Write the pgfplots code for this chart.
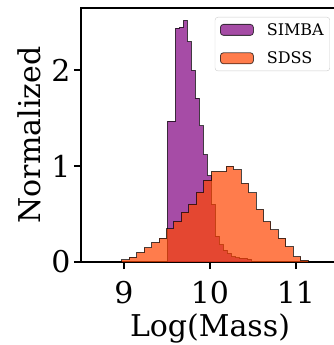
\documentclass[border=0pt]{standalone}
\usepackage{fontspec}
\setmainfont{DejaVu Serif}
\usepackage{pgfplots}
\pgfplotsset{compat=1.18}
\definecolor{simba}{HTML}{800080}
\definecolor{sdss}{HTML}{FF4500}
\begin{document}
\begin{tikzpicture}
\begin{axis}[
  scale only axis, width=258pt, height=254pt,
  at={(0pt,0pt)}, anchor=south west,
  xmin=8.5, xmax=11.5, ymin=0, ymax=2.65,
  axis line style={line width=2.5pt},
  tick align=outside, major tick length=7pt, tick pos=left,
  tick style={line width=2pt, black},
  xtick={9,10,11}, ytick={0,1,2},
  tick label style={font=\fontsize{30}{36}\selectfont},
  xticklabel style={yshift=-9pt},
  label style={font=\fontsize{30}{36}\selectfont},
  xlabel style={yshift=-3pt},
  ylabel shift=4pt,
  /pgf/number format/assume math mode=true,
  xlabel={Log(Mass)}, ylabel={Normalized},
  legend cell align=left,
  legend image code/.code={\draw[#1, line width=0.8pt] (0pt,-5.5pt) rectangle (33pt,5.5pt);},
  legend style={at={(axis description cs:1,1)}, anchor=north east, xshift=-9pt, yshift=-9pt,
    draw=black!20, rounded corners=3pt, fill=white, font=\rmfamily\fontsize{16}{19}\selectfont,
    inner xsep=5pt, inner ysep=5pt, row sep=13pt, column sep=12pt, nodes={inner sep=1pt}},
]
\addplot[const plot, fill=simba, fill opacity=0.7, draw=black, draw opacity=0.7, line width=1pt]
coordinates {(9.5035,0) (9.5035,1.47) (9.55,1.47) (9.5965,2.44) (9.643,2.45) (9.6895,2.52) (9.736,2.30) (9.7825,2.00) (9.829,1.71) (9.8755,1.42) (9.922,1.12) (9.9685,0.90) (10.015,0.60) (10.0615,0.27) (10.108,0.18) (10.1545,0.125) (10.201,0.09) (10.2475,0.055) (10.294,0.045) (10.3405,0.04) (10.387,0.04) (10.4335,0.03) (10.48,0.03) (10.48,0)} -- cycle;
\addlegendentry{SIMBA}
\addplot[const plot, fill=sdss, fill opacity=0.7, draw=black, draw opacity=0.7, line width=1pt]
coordinates {(8.973,0) (8.973,0.022) (9.0598,0.052) (9.1466,0.10) (9.2334,0.15) (9.3202,0.205) (9.407,0.25) (9.4938,0.345) (9.5806,0.425) (9.6674,0.52) (9.7542,0.605) (9.841,0.73) (9.9278,0.855) (10.0146,0.945) (10.1014,0.945) (10.1882,1.0) (10.275,0.965) (10.3618,0.82) (10.4486,0.72) (10.5354,0.55) (10.6222,0.42) (10.709,0.335) (10.7958,0.25) (10.8826,0.16) (10.9694,0.055) (11.0562,0.018) (11.143,0.018) (11.143,0)} -- cycle;
\addlegendentry{SDSS}
\end{axis}
\pgfresetboundingbox
\path (-81pt,-83pt) rectangle (253pt,262pt);
\end{tikzpicture}
\end{document}
